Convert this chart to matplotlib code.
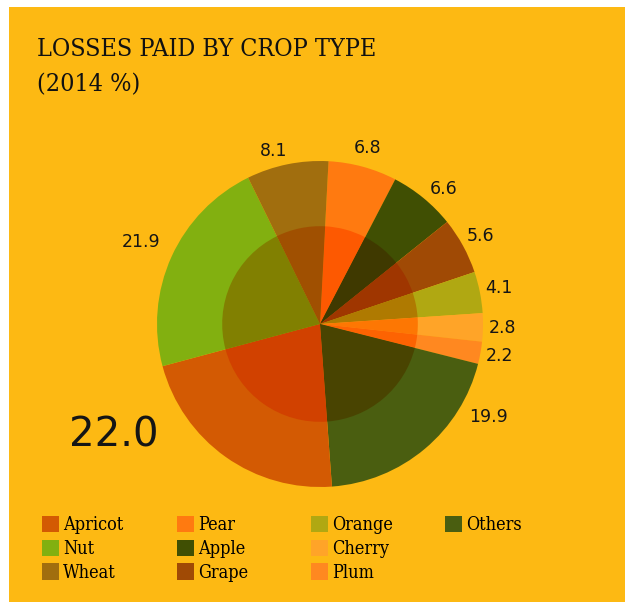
import matplotlib
matplotlib.use("Agg")
import matplotlib.pyplot as plt
from matplotlib.patches import Rectangle
import numpy as np

# data, clockwise from the top of the pie
crops = ["Pear", "Apple", "Grape", "Orange", "Cherry", "Plum",
         "Others", "Apricot", "Nut", "Wheat"]
losses = [6.8, 6.6, 5.6, 4.1, 2.8, 2.2, 19.9, 22.0, 21.9, 8.1]

colors = {"Pear": "#ff7a10", "Apple": "#404f03", "Grape": "#a04a05",
          "Orange": "#b0a812", "Cherry": "#ffa428", "Plum": "#ff8820",
          "Others": "#4a5e10", "Apricot": "#d35a03", "Nut": "#82b010",
          "Wheat": "#a16e0e"}
legend_cols = [["Apricot", "Nut", "Wheat"], ["Pear", "Apple", "Grape"],
               ["Orange", "Cherry", "Plum"], ["Others"]]

bg = "#fdb913"
W, H = 625, 602
cx, cy, R = 320, 324, 163  # pie centre / radius in pixels

serif = dict(family=["DejaVu Serif Condensed", "DejaVu Serif"], stretch="condensed")

fig = plt.figure(figsize=(W / 100, H / 100), dpi=100, facecolor="white")
fig.patches.append(Rectangle((9 / W, 0), 1 - 9 / W, 1 - 7 / H, transform=fig.transFigure,
                             facecolor=bg, edgecolor="none", zorder=-10))

ax = fig.add_axes([0, 0, 1, 1])
ax.set_facecolor("none")

outer_cols = [colors[c] for c in crops]
# inner disc looks like the colours multiplied by the background
bg_rgb = np.array(matplotlib.colors.to_rgb(bg))
inner_cols = [tuple(np.array(matplotlib.colors.to_rgb(c)) * bg_rgb) for c in outer_cols]

wedges, texts = ax.pie(losses, colors=outer_cols, startangle=87, counterclock=False,
                       radius=1.0, labels=["%.1f" % v for v in losses], labeldistance=1.12,
                       wedgeprops=dict(linewidth=0), textprops=dict(fontsize=12.5, color="#151515"))
ax.pie(losses, colors=inner_cols, startangle=87, counterclock=False, radius=0.6,
       wedgeprops=dict(linewidth=0))

for t in texts:
    t.set_horizontalalignment("center")
    t.set_verticalalignment("center")

# labels that sit away from the middle of their wedge: (angle, radius, size)
moved = {"Others": (-29, 1.18, 12.5), "Apricot": (-151.6, 1.44, 29),
         "Nut": (155.4, 1.21, 12.5), "Wheat": (104.9, 1.10, 12.5),
         "Apple": (47.5, 1.12, 12.5)}
for name, (ang, r, fs) in moved.items():
    t = texts[crops.index(name)]
    a = np.deg2rad(ang)
    t.set_position((r * np.cos(a), r * np.sin(a)))
    t.set_fontsize(fs)

ax.set_aspect("auto")
ax.set_xlim(-cx / R, (W - cx) / R)
ax.set_ylim(-(H - cy) / R, cy / R)
ax.axis("off")

fig.text(37 / W, 1 - 38 / H, "LOSSES PAID BY CROP TYPE\n(2014 %)", ha="left", va="top",
         fontsize=18, linespacing=1.7, color="#111111", **serif)

col_x = [42, 177, 311, 445]
for x, names in zip(col_x, legend_cols):
    hs = [wedges[crops.index(n)] for n in names]
    fig.legend(hs, names, loc="upper left", bbox_to_anchor=(x / W, 1 - 516 / H),
               frameon=False, ncol=1, handlelength=0.95, handleheight=1.0,
               handletextpad=0.2, labelspacing=0.3, borderpad=0, borderaxespad=0,
               prop=dict(size=13, **serif))

fig.savefig("out.png", dpi=100, facecolor="white")
